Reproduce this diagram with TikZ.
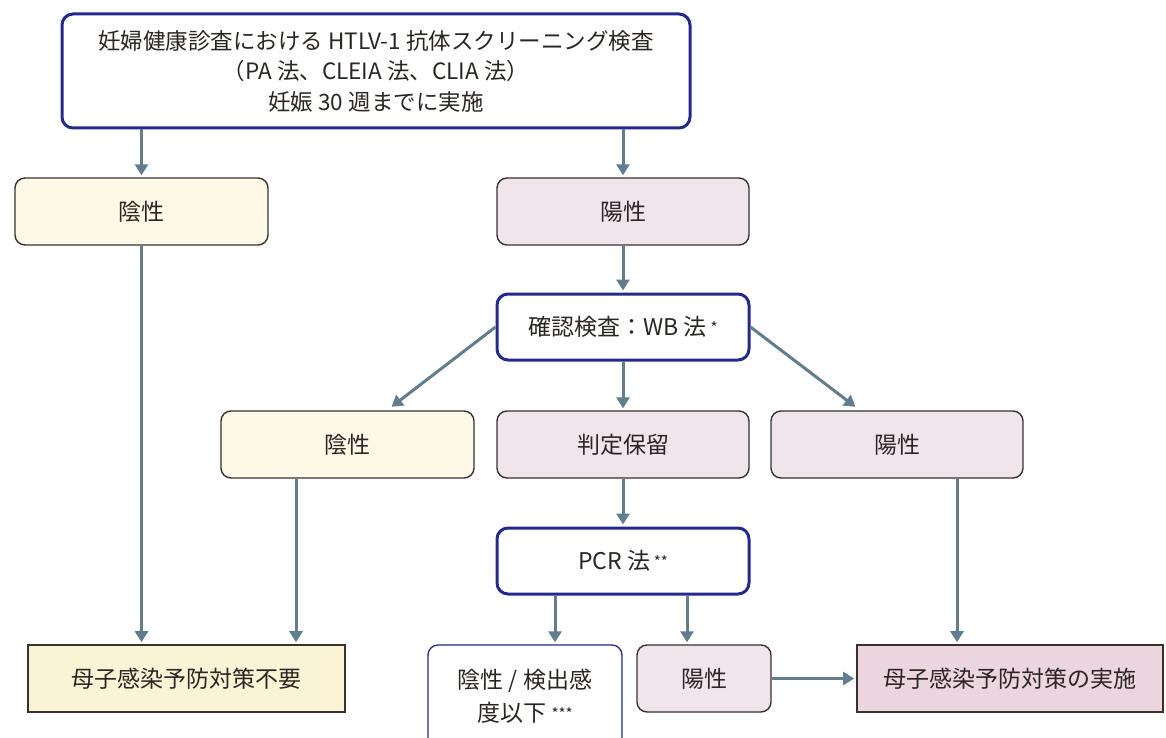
\documentclass[tikz,border=0pt]{standalone}
\usepackage{fontspec}
\setmainfont{Noto Sans CJK JP}
\usetikzlibrary{arrows.meta}
\definecolor{navy}{HTML}{232A8C}
\definecolor{edge}{HTML}{3A302C}
\definecolor{arrc}{HTML}{627D8C}
\definecolor{txt}{HTML}{2B2523}
\definecolor{cream}{HTML}{FDF9E7}
\definecolor{creamd}{HTML}{FAF3D5}
\definecolor{pinkl}{HTML}{F1E5EC}
\definecolor{pinkd}{HTML}{EBD5DF}
\newcommand{\mystar}[1]{{\fontsize{15}{15}\selectfont\raisebox{2pt}{#1}}}
\tikzset{
  x=1pt, y=-1pt,
  base/.style={text=txt, align=center, font=\fontsize{23}{32}\selectfont, inner sep=0pt},
  navybox/.style={base, draw=navy, line width=3pt, rounded corners=11pt, fill=white},
  negbox/.style={base, draw=edge, line width=1.4pt, rounded corners=10pt, fill=cream, minimum width=253pt, minimum height=67pt},
  posbox/.style={base, draw=edge, line width=1.4pt, rounded corners=10pt, fill=pinkl, minimum height=67pt},
  arr/.style={draw=arrc, line width=3pt, -{Triangle[length=11pt,width=13pt]}, shorten >=2pt}
}
\begin{document}
\begin{tikzpicture}
\useasboundingbox (0,0) rectangle (1166,738);
\clip (0,0) rectangle (1166,738);
\node[navybox, minimum width=628pt, minimum height=114pt, font=\fontsize{22.5}{30.5}\selectfont] (top) at (376,71)
  {妊婦健康診査における HTLV-1 抗体スクリーニング検査\\（PA 法、CLEIA 法、CLIA 法）\\妊娠 30 週までに実施};
\node[negbox] (n1) at (141.5,211.5) {陰性};
\node[posbox, minimum width=252pt] (p1) at (623,211.5) {陽性};
\node[navybox, minimum width=252pt, minimum height=66pt] (wb) at (623,327) {確認検査：WB 法\,\mystar{*}};
\node[negbox] (n2) at (347.5,444.5) {陰性};
\node[posbox, minimum width=252pt] (hold) at (623,444.5) {判定保留};
\node[posbox, minimum width=252pt] (p2) at (897,444.5) {陽性};
\node[navybox, minimum width=252pt, minimum height=66pt] (pcr) at (623,561) {PCR 法\,\mystar{**}};
\node[base, draw=edge, line width=1.6pt, fill=creamd, minimum width=317pt, minimum height=67pt] (no) at (186.5,678.5) {母子感染予防対策不要};
\node[base, draw=navy, line width=1.3pt, rounded corners=10pt, fill=white, minimum width=194pt, minimum height=110pt] (n3) at (525,700) {};
\node[base, font=\fontsize{23}{33}\selectfont] (n3t) at (525,696) {陰性 / 検出感\\度以下 \mystar{***}};
\node[posbox, minimum width=134pt] (p3) at (704,678.5) {陽性};
\node[base, draw=edge, line width=1.6pt, fill=pinkd, minimum width=306pt, minimum height=67pt] (yes) at (1010,678.5) {母子感染予防対策の実施};
\coordinate (d1) at (390,408);
\coordinate (d2) at (857,408);
% arrows
\draw[arr] (top.south -| n1.north) -- (n1.north);
\draw[arr] (top.south -| p1.north) -- (p1.north);
\draw[arr] (p1.south) -- (wb.north);
\draw[arr] (wb.west) -- (d1);
\draw[arr] (wb.east) -- (d2);
\draw[arr] (wb.south) -- (hold.north);
\draw[arr] (hold.south) -- (pcr.north);
\draw[arr] (n1.south) -- (n1.south |- no.north);
\draw[arr] ([xshift=-51.5pt]n2.south) -- ([xshift=109.5pt]no.north);
\draw[arr] ([xshift=-68pt]pcr.south) -- ([xshift=30pt]n3.north);
\draw[arr] ([xshift=64pt]pcr.south) -- ([xshift=-17pt]p3.north);
\draw[arr] ([xshift=60pt]p2.south) -- ([xshift=-53pt]yes.north);
\draw[arr] (p3.east) -- (yes.west);
\end{tikzpicture}
\end{document}
